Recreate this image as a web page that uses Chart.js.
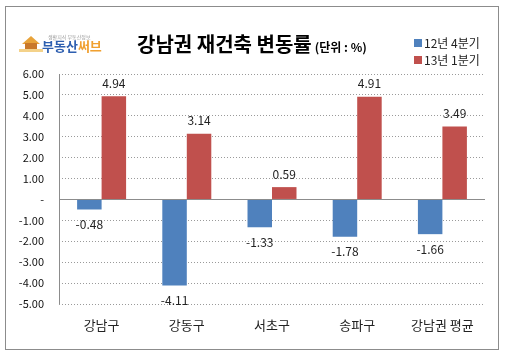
<!DOCTYPE html>
<html><head><meta charset="utf-8">
<script src="https://cdn.jsdelivr.net/npm/chart.js@4/dist/chart.umd.min.js"></script>
<style>html,body{margin:0;padding:0;background:#fff}canvas{display:block}</style>
</head><body>
<canvas id="c" width="505" height="355"></canvas>
<script>
const categories = ['강남구', '강동구', '서초구', '송파구', '강남권 평균'];
const seriesNames = ['12년 4분기', '13년 1분기'];
const q4_2012 = [-0.48, -4.11, -1.33, -1.78, -1.66];
const q1_2013 = [4.94, 3.14, 0.59, 4.91, 3.49];
const yTicks = [6, 5, 4, 3, 2, 1, 0, -1, -2, -3, -4, -5];
const titleMain = '강남권 재건축 변동률';
const titleUnit = '(단위 : %)';
const colors = ['#4F81BD', '#C0504D'];
const FONT = '"Noto Sans CJK KR", "Noto Sans", sans-serif';

const decor = {
  id: 'decor',
  beforeDraw(chart) {
    const ctx = chart.ctx;
    ctx.save();
    ctx.fillStyle = '#fff';
    ctx.fillRect(0, 0, chart.width, chart.height);
    ctx.strokeStyle = '#8c8c8c';
    ctx.lineWidth = 1;
    ctx.strokeRect(5.5, 6.5, 493, 343);
    // logo
    ctx.fillStyle = '#e8a33a';
    ctx.beginPath();
    ctx.moveTo(22, 44); ctx.lineTo(31, 36); ctx.lineTo(40, 44); ctx.closePath(); ctx.fill();
    ctx.fillStyle = '#c9782a';
    ctx.fillRect(25, 43, 12, 7);
    ctx.fillStyle = '#f4d28a';
    ctx.fillRect(19, 49, 24, 3);
    ctx.font = '5px ' + FONT;
    ctx.fillStyle = '#999';
    ctx.textBaseline = 'middle';
    ctx.fillText('생활지식 부동산정보', 48, 37);
    ctx.font = 'bold 13px ' + FONT;
    ctx.fillStyle = '#2e5fb0';
    ctx.fillText('부동산', 42, 46);
    const w = ctx.measureText('부동산').width;
    ctx.fillStyle = '#f0a030';
    ctx.fillText('써브', 42 + w, 46);
    // title
    ctx.fillStyle = '#000';
    ctx.font = 'bold 20px ' + FONT;
    ctx.textBaseline = 'middle';
    ctx.fillText(titleMain, 137, 44);
    const tw = ctx.measureText(titleMain).width;
    ctx.font = 'bold 12px ' + FONT;
    ctx.fillText(titleUnit, 137 + tw + 3, 47);
    // legend
    ctx.font = '12px ' + FONT;
    chart.data.datasets.forEach((ds, i) => {
      const y = 43 + i * 17;
      ctx.fillStyle = ds.backgroundColor;
      ctx.fillRect(414, y - 4, 8, 8);
      ctx.fillStyle = '#222';
      ctx.fillText(ds.label, 424, y);
    });
    ctx.restore();
  },
  beforeDatasetsDraw(chart) {
    const ctx = chart.ctx;
    const y = chart.scales.y;
    const a = chart.chartArea;
    ctx.save();
    ctx.strokeStyle = '#8c8c8c';
    ctx.lineWidth = 1;
    const y0 = Math.round(y.getPixelForValue(0)) + 0.5;
    ctx.beginPath();
    ctx.moveTo(a.left, y0); ctx.lineTo(a.right, y0);
    ctx.moveTo(Math.round(a.left) + 0.5, a.top); ctx.lineTo(Math.round(a.left) + 0.5, a.bottom);
    ctx.stroke();
    ctx.restore();
  },
  afterDatasetsDraw(chart) {
    const ctx = chart.ctx;
    ctx.save();
    ctx.font = '12px ' + FONT;
    ctx.fillStyle = '#222';
    ctx.textAlign = 'center';
    ctx.textBaseline = 'middle';
    chart.data.datasets.forEach((ds, i) => {
      chart.getDatasetMeta(i).data.forEach((bar, j) => {
        const v = ds.data[j];
        const ty = v >= 0 ? bar.y - 13 : bar.y + 15;
        ctx.fillText(v.toFixed(2), bar.x, ty);
      });
    });
    ctx.restore();
  }
};

new Chart(document.getElementById('c'), {
  type: 'bar',
  data: {
    labels: categories,
    datasets: [
      { label: seriesNames[0], data: q4_2012, backgroundColor: colors[0] },
      { label: seriesNames[1], data: q1_2013, backgroundColor: colors[1] }
    ]
  },
  options: {
    responsive: false,
    animation: false,
    devicePixelRatio: 1,
    layout: { padding: { left: 0, top: 74, right: 20, bottom: 0 } },
    plugins: { legend: { display: false }, tooltip: { enabled: false }, title: { display: false } },
    datasets: { bar: { categoryPercentage: 0.575, barPercentage: 1.0 } },
    scales: {
      x: {
        grid: { display: false, drawTicks: false },
        border: { display: false },
        ticks: { color: '#222', font: { family: FONT, size: 13 }, padding: 13, maxRotation: 0 },
        afterFit(s) { s.height = 51; }
      },
      y: {
        min: -5, max: 6,
        afterBuildTicks(s) { s.ticks = yTicks.map(v => ({ value: v })); },
        grid: { color: '#9a9a9a', drawTicks: false, lineWidth: 1 },
        border: { display: false, dash: [1, 2] },
        ticks: {
          color: '#111', font: { family: FONT, size: 11 }, padding: 15,
          callback: v => v === 0 ? '-' : Number(v).toFixed(2)
        },
        afterFit(s) { s.width = 59; }
      }
    }
  },
  plugins: [decor]
});
</script>
</body></html>
